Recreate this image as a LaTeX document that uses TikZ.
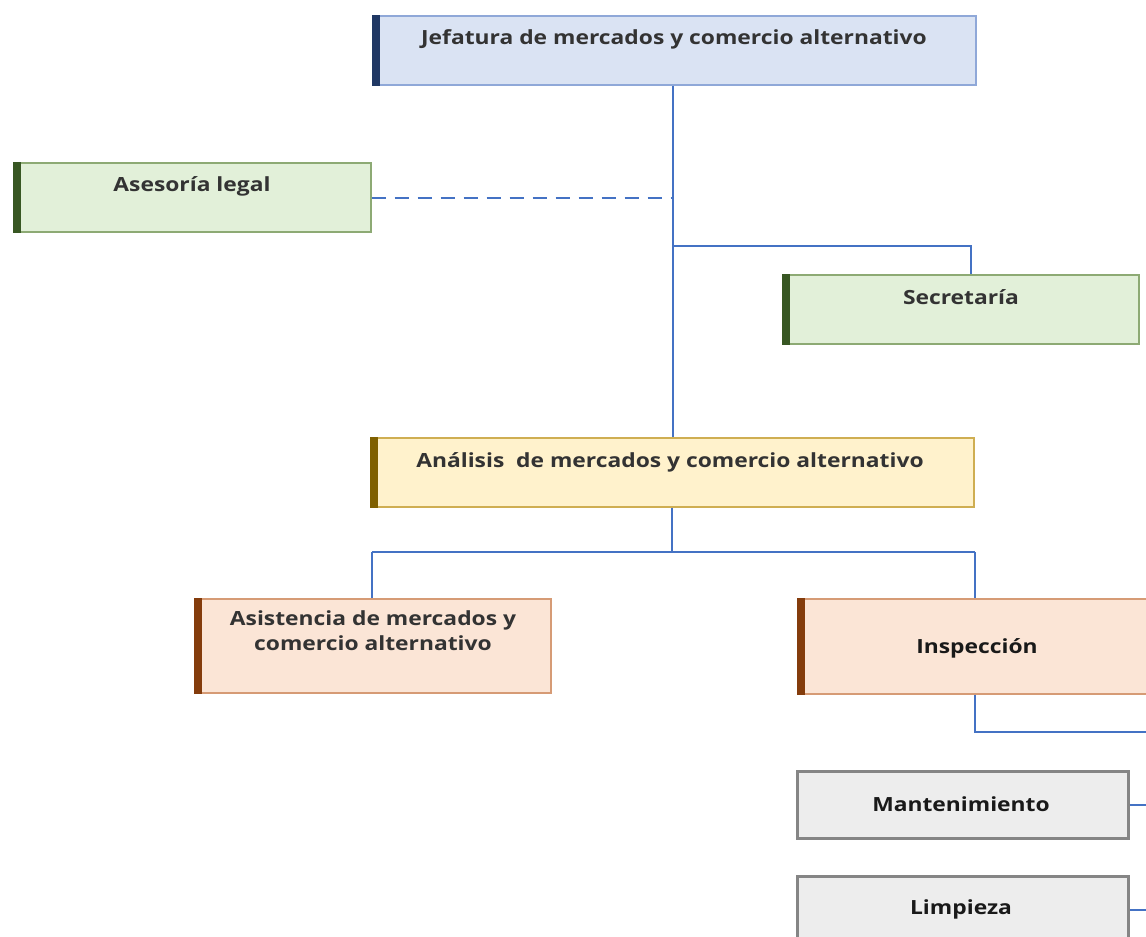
\documentclass[tikz,border=0pt]{standalone}
\usepackage{fontspec}
\setmainfont{Open Sans}
\newfontfamily\lblfont[FakeStretch=1.17]{Open Sans}
\usetikzlibrary{calc}
\definecolor{link}{HTML}{4472C4}
\definecolor{txt}{HTML}{333333}
\definecolor{navy}{HTML}{203864}
\definecolor{blueF}{HTML}{DAE3F3}
\definecolor{blueB}{HTML}{8FA8D8}
\definecolor{greenA}{HTML}{385723}
\definecolor{greenF}{HTML}{E2F0D9}
\definecolor{greenB}{HTML}{8DAA74}
\definecolor{goldA}{HTML}{7F6000}
\definecolor{goldF}{HTML}{FFF2CC}
\definecolor{goldB}{HTML}{CFAE52}
\definecolor{rustA}{HTML}{843C0C}
\definecolor{rustF}{HTML}{FBE5D6}
\definecolor{rustB}{HTML}{D69B75}
\definecolor{greyF}{HTML}{EDEDED}
\definecolor{greyB}{HTML}{858585}
\tikzset{
  x=1pt, y=-1pt,
  unitbox/.style={anchor=north west, inner sep=0pt, line width=1.6pt},
  bluebox/.style={unitbox, draw=blueB, fill=blueF},
  greenbox/.style={unitbox, draw=greenB, fill=greenF},
  goldbox/.style={unitbox, draw=goldB, fill=goldF},
  rustbox/.style={unitbox, draw=rustB, fill=rustF},
  greybox/.style={unitbox, draw=greyB, fill=greyF, line width=2.8pt},
  lbl/.style={font=\lblfont\fontsize{19.5}{24}\selectfont\bfseries, text=txt, align=center, inner sep=0pt},
  lbldark/.style={lbl, text=black!90},
  link/.style={draw=link, line width=1.9pt},
}
% coloured strip along the left side of a box
\newcommand{\sidebar}[2]{\fill[#2] (#1.north west) rectangle ([xshift=8pt]#1.south west);}
\begin{document}
\begin{tikzpicture}
\useasboundingbox (0,0) rectangle (1146,937);
\clip (0,0) rectangle (1146,937);

% boxes
\node[bluebox, minimum width=603pt, minimum height=69pt] (jef) at (372,15) {};
\sidebar{jef}{navy}
\node[lbl] (jef-t) at (674,39.5) {Jefatura de mercados y comercio alternativo};

\node[greenbox, minimum width=357pt, minimum height=69pt] (ase) at (13,162) {};
\sidebar{ase}{greenA}
\node[lbl] (ase-t) at (192,186.5) {Asesoría legal};

\node[greenbox, minimum width=356pt, minimum height=69pt] (sec) at (782,274) {};
\sidebar{sec}{greenA}
\node[lbl] (sec-t) at (961,297.5) {Secretaría};

\node[goldbox, minimum width=603pt, minimum height=69pt] (ana) at (370,437) {};
\sidebar{ana}{goldA}
\node[lbl] (ana-t) at (670,462.5) {Análisis\ \ de mercados y comercio alternativo};

\node[rustbox, minimum width=356pt, minimum height=94pt] (asi) at (194,598) {};
\sidebar{asi}{rustA}
\node[lbl, font=\lblfont\fontsize{19.5}{25}\selectfont\bfseries, anchor=north] (asi-t) at (373,610) {Asistencia de mercados y\\comercio alternativo};

\node[rustbox, minimum width=362pt, minimum height=95pt] (ins) at (797,598) {};
\sidebar{ins}{rustA}
\node[lbldark] (ins-t) at (977,648) {Inspección};

\node[greybox, minimum width=331pt, minimum height=67pt] (man) at (796,770) {};
\node[lbldark] (man-t) at (961,804) {Mantenimiento};

\node[greybox, minimum width=331pt, minimum height=67pt] (lim) at (796,875) {};
\node[lbldark] (lim-t) at (961,909) {Limpieza};

% connectors
\coordinate (trunk) at (673,198);
\coordinate (secj) at (673,246);
\coordinate (anaj) at (672,552);
\coordinate (insj) at (975,732);
\coordinate (rail) at (1170,732);

\draw[link] (jef.south -| trunk) -- (ana.north -| trunk);
\draw[link, dash pattern=on 14pt off 9pt] (ase.east |- trunk) -- (trunk);
\draw[link] (secj) -| (sec.north -| 971,0);
\draw[link] (ana.south -| anaj) -- (anaj);
\draw[link] (372,552) -- (975,552);
\draw[link] (372,552) -- (asi.north -| 372,0);
\draw[link] (975,552) -- (ins.north -| 975,0);
\draw[link] (ins.south -| insj) -- (insj) -- (rail);
\draw[link] (man.east) -- (man.east -| rail);
\draw[link] (lim.east |- 910,910) -- (rail |- 910,910);
\end{tikzpicture}
\end{document}
